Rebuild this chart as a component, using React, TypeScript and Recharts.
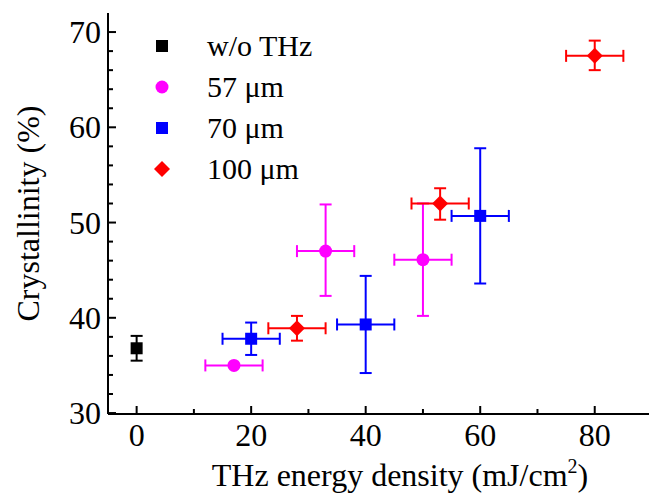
import { ErrorBar, Legend, Scatter, ScatterChart, XAxis, YAxis } from "recharts";

const FONT = '"Liberation Serif", "Times New Roman", serif';

// axis ticks (minor + major) and which ones carry a label
const X_TICKS = [0, 10, 20, 30, 40, 50, 60, 70, 80];
const X_LABELED = [0, 20, 40, 60, 80];
const Y_TICKS = [30, 32, 34, 36, 38, 40, 42, 44, 46, 48, 50, 52, 54, 56, 58, 60, 62, 64, 66, 68, 70];
const Y_LABELED = [30, 40, 50, 60, 70];

// ex / ey = [minus, plus] error
const noThz = [{ x: 0, y: 36.8, ex: null, ey: [1.3, 1.3] }];
const um57 = [
  { x: 17, y: 35.0, ex: [5, 5], ey: null },
  { x: 33, y: 47.0, ex: [5, 5], ey: [4.7, 4.9] },
  { x: 50, y: 46.1, ex: [5, 5], ey: [5.9, 5.9] },
];
const um70 = [
  { x: 20, y: 37.8, ex: [5, 5], ey: [1.7, 1.7] },
  { x: 40, y: 39.3, ex: [5, 5], ey: [5.1, 5.1] },
  { x: 60, y: 50.7, ex: [5, 5], ey: [7.1, 7.1] },
];
const um100 = [
  { x: 28, y: 38.9, ex: [5, 5], ey: [1.3, 1.3] },
  { x: 53, y: 52.0, ex: [5, 5], ey: [1.7, 1.6] },
  { x: 80, y: 67.5, ex: [5, 5], ey: [1.5, 1.6] },
];

const SERIES = [
  { name: "w/o THz", color: "#000000", kind: "square", data: noThz },
  { name: "57 \u03bcm", color: "#ff00ff", kind: "circle", data: um57 },
  { name: "70 \u03bcm", color: "#0000ff", kind: "square", data: um70 },
  { name: "100 \u03bcm", color: "#ff0000", kind: "diamond", data: um100 },
];

function Marker({ cx, cy, kind, color }: { cx: number; cy: number; kind: string; color: string }) {
  if (kind === "circle") return <circle cx={cx} cy={cy} r={6.5} fill={color} />;
  if (kind === "diamond")
    return (
      <polygon
        points={`${cx},${cy - 8} ${cx + 8},${cy} ${cx},${cy + 8} ${cx - 8},${cy}`}
        fill={color}
      />
    );
  return <rect x={cx - 6} y={cy - 6} width={12} height={12} fill={color} />;
}

function BottomTick({ x, y, payload }: any) {
  const major = X_LABELED.includes(payload.value);
  return (
    <g>
      <line x1={x} x2={x} y1={y} y2={y - (major ? 8 : 5)} stroke="#000" strokeWidth={2} />
      {major && (
        <text x={x} y={y + 32} textAnchor="middle" fontSize={32} fontFamily={FONT} fill="#000">
          {payload.value}
        </text>
      )}
    </g>
  );
}

function TopTick({ x, y, payload }: any) {
  const major = X_LABELED.includes(payload.value);
  return <line x1={x} x2={x} y1={y} y2={y + (major ? 8 : 5)} stroke="#000" strokeWidth={2} />;
}

function LeftTick({ x, y, payload }: any) {
  const major = Y_LABELED.includes(payload.value);
  return (
    <g>
      <line x1={x} x2={x + (major ? 8 : 5)} y1={y} y2={y} stroke="#000" strokeWidth={2} />
      {major && (
        <text x={x - 7} y={y + 11} textAnchor="end" fontSize={32} fontFamily={FONT} fill="#000">
          {payload.value}
        </text>
      )}
    </g>
  );
}

function RightTick({ x, y, payload }: any) {
  const major = Y_LABELED.includes(payload.value);
  return <line x1={x} x2={x - (major ? 8 : 5)} y1={y} y2={y} stroke="#000" strokeWidth={2} />;
}

function XTitle({ viewBox }: any) {
  const { x, y } = viewBox;
  return (
    <text x={x + 292} y={y + 72} textAnchor="middle" fontSize={32} fontFamily={FONT} fill="#000">
      THz energy density (mJ/cm
      <tspan dy={-13} fontSize={20}>2</tspan>
      <tspan dy={13}>)</tspan>
    </text>
  );
}

function YTitle({ viewBox }: any) {
  const { x, y, height } = viewBox;
  const cx = x + 28;
  const cy = y + height / 2;
  return (
    <text
      x={cx}
      y={cy}
      dy={11}
      transform={`rotate(-90 ${cx} ${cy})`}
      textAnchor="middle"
      fontSize={32}
      fontFamily={FONT}
      fill="#000"
    >
      Crystallinity (%)
    </text>
  );
}

function LegendBox() {
  return (
    <div style={{ fontFamily: FONT }}>
      {SERIES.map((s) => (
        <div key={s.name} style={{ display: "flex", alignItems: "center", height: 41 }}>
          <svg width={20} height={20}>
            <Marker cx={10} cy={10} kind={s.kind} color={s.color} />
          </svg>
          <span style={{ marginLeft: 35, fontSize: 30, lineHeight: "41px", color: "#000" }}>
            {s.name}
          </span>
        </div>
      ))}
    </div>
  );
}

export default function App() {
  const axisLine = { stroke: "#000", strokeWidth: 2 };
  return (
    <div
      style={{
        position: "absolute",
        left: 0,
        top: 0,
        width: 649,
        height: 494,
        overflow: "hidden",
        background: "#fff",
      }}
    >
      <ScatterChart width={654} height={494} margin={{ top: 13, right: 2, bottom: 0, left: 0 }}>
        <XAxis
          dataKey="x"
          type="number"
          domain={[-5, 90]}
          allowDataOverflow
          ticks={X_TICKS}
          interval={0}
          tickSize={0}
          tickMargin={0}
          tickLine={false}
          tick={<BottomTick />}
          axisLine={axisLine}
          height={80}
          label={<XTitle />}
        />
        <XAxis
          xAxisId="top"
          orientation="top"
          dataKey="x"
          type="number"
          domain={[-5, 90]}
          allowDataOverflow
          ticks={X_TICKS}
          interval={0}
          tickSize={0}
          tickMargin={0}
          tickLine={false}
          tick={<TopTick />}
          axisLine={axisLine}
          height={0}
        />
        <YAxis
          dataKey="y"
          type="number"
          domain={[29.9, 72]}
          allowDataOverflow
          ticks={Y_TICKS}
          interval={0}
          tickSize={0}
          tickMargin={0}
          tickLine={false}
          tick={<LeftTick />}
          axisLine={axisLine}
          width={108}
          label={<YTitle />}
        />
        <YAxis
          yAxisId="right"
          orientation="right"
          dataKey="y"
          type="number"
          domain={[29.9, 72]}
          allowDataOverflow
          ticks={Y_TICKS}
          interval={0}
          tickSize={0}
          tickMargin={0}
          tickLine={false}
          tick={<RightTick />}
          axisLine={axisLine}
          width={0}
        />
        <Legend
          layout="vertical"
          align="center"
          verticalAlign="middle"
          wrapperStyle={{ left: 152, top: 25, width: "auto", height: "auto" }}
          content={() => <LegendBox />}
        />
        {SERIES.map((s) => (
          <Scatter
            key={s.name}
            name={s.name}
            data={s.data}
            fill={s.color}
            isAnimationActive={false}
            shape={(p: any) => <Marker cx={p.cx} cy={p.cy} kind={s.kind} color={s.color} />}
          >
            <ErrorBar dataKey="ex" direction="x" width={6} stroke={s.color} strokeWidth={2} />
            <ErrorBar dataKey="ey" direction="y" width={6} stroke={s.color} strokeWidth={2} />
          </Scatter>
        ))}
      </ScatterChart>
    </div>
  );
}
